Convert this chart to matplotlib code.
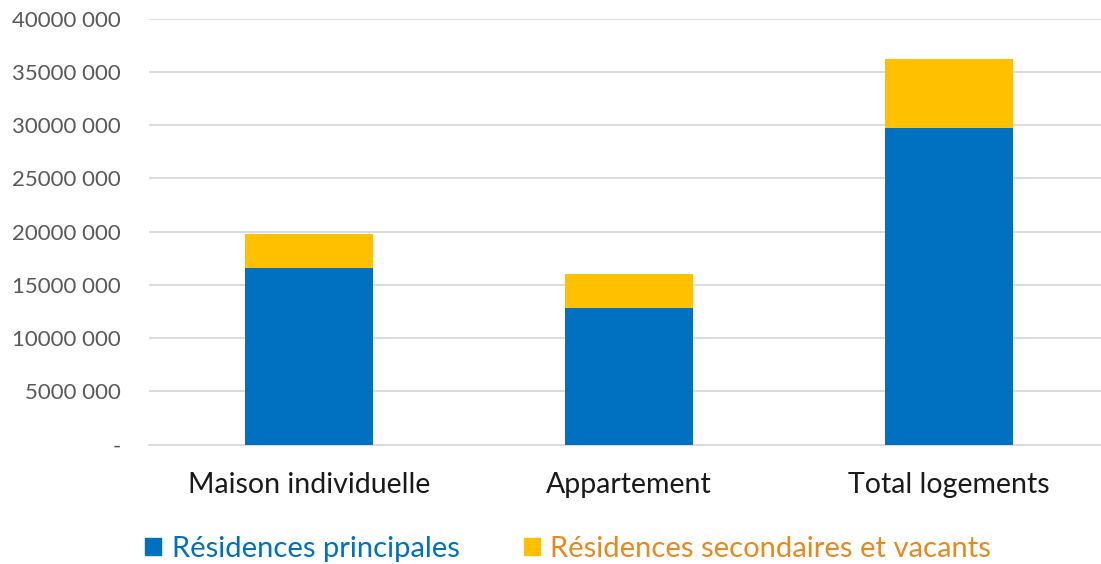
import matplotlib.pyplot as plt
import matplotlib.ticker as mticker
from matplotlib.patches import Patch

categories = ['Maison individuelle', 'Appartement', 'Total logements']
principales = [16560000, 12860000, 29740000]
secondaires = [3250000, 3170000, 6480000]
series_names = ['Résidences principales', 'Résidences secondaires et vacants']

blue = '#0070C0'
yellow = '#FFC000'

plt.rcParams['font.family'] = ['Lato', 'DejaVu Sans']

fig = plt.figure(figsize=(11.01, 5.64), dpi=100)
ax = fig.add_axes([149 / 1101, 1 - 444.7 / 564, 1 - 149 / 1101, (444.7 - 18.7) / 564])

x = list(range(len(categories)))
ax.bar(x, principales, width=0.4, color=blue, zorder=3)
ax.bar(x, secondaires, width=0.4, bottom=principales, color=yellow, zorder=3)

ax.set_xlim(-0.5, 2.475)
ax.set_ylim(0, 40000000)
ax.yaxis.set_major_locator(mticker.MultipleLocator(5000000))


def fmt(v, pos):
    if v == 0:
        return '-'
    return '{} 000'.format(int(v // 1000))


ax.yaxis.set_major_formatter(mticker.FuncFormatter(fmt))
ax.grid(axis='y', color='#D9D9D9', linewidth=1.3, zorder=0)
for s in ['top', 'right', 'left']:
    ax.spines[s].set_visible(False)
ax.spines['bottom'].set_color('#D9D9D9')
ax.spines['bottom'].set_linewidth(1.3)
ax.tick_params(axis='y', length=0, pad=20, labelsize=16, labelcolor='#595959')
ax.tick_params(axis='x', length=0, pad=20, labelsize=20.5, labelcolor='#1a1a1a')
ax.set_xticks(x)
ax.set_xticklabels(categories)

handles = [Patch(color=blue), Patch(color=yellow)]
leg = fig.legend(handles, series_names, loc='center left', bbox_to_anchor=(119 / 1101, 1 - 549 / 564),
                 ncol=2, frameon=False, fontsize=21, handlelength=0.55, handleheight=0.55,
                 handletextpad=0.35, columnspacing=2.2)
for t, c in zip(leg.get_texts(), [blue, '#E8891C']):
    t.set_color(c)

plt.savefig('out.png', dpi=100)
